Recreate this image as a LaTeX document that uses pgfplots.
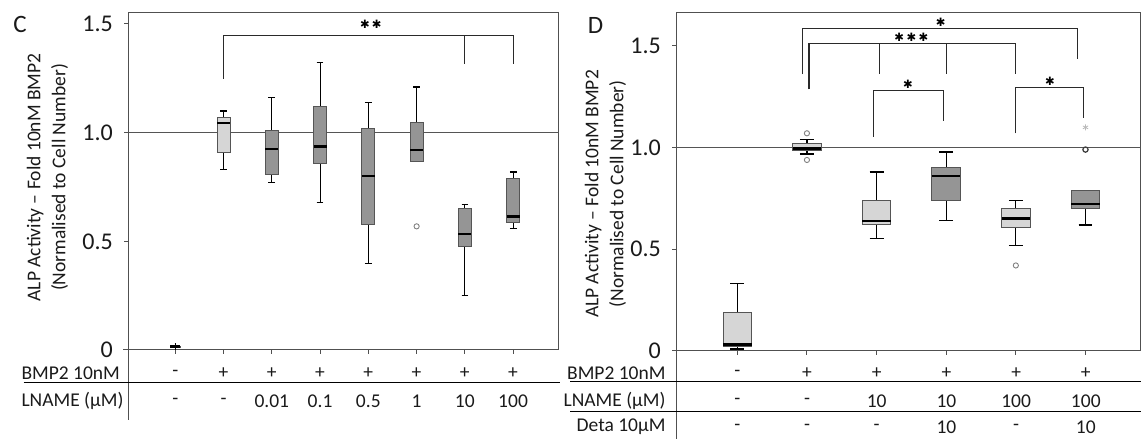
\documentclass[border=0pt]{standalone}
\usepackage{fontspec}
\setmainfont{Carlito}
\newfontfamily\symfont{DejaVu Sans}
\usepackage{pgfplots}
\pgfplotsset{compat=1.18}
\usepgfplotslibrary{statistics}
\definecolor{lightfill}{HTML}{D6D6D6}
\definecolor{darkfill}{HTML}{959595}
\definecolor{boxdraw}{HTML}{555555}
\definecolor{axcol}{HTML}{505050}
\definecolor{refcol}{HTML}{555555}
\definecolor{brkcol}{HTML}{2A2A2A}
\definecolor{txt}{HTML}{1A1A1A}
\newcommand{\lab}{\fontsize{19.5}{25}\selectfont}
\newcommand{\stars}[1]{{\symfont\fontsize{11.5}{11.5}\selectfont #1}}
\pgfplotsset{
  panel/.style={
    scale only axis, ymin=0,
    axis line style={draw=axcol, line width=1pt},
    tick style={draw=axcol, line width=1pt},
    tick align=outside, major tick length=4pt,
    xtick pos=bottom, ytick pos=left,
    xticklabel=\empty,
    ytick={0,0.5,1,1.5}, yticklabels={0,0.5,1.0,1.5},
    yticklabel style={font=\fontsize{24}{24}\selectfont, text=txt, inner sep=0pt, xshift=-11pt},
    boxplot/draw direction=y,
    boxplot/every whisker/.style={draw=black, line width=1.15pt},
    boxplot/every median/.style={draw=black, line width=2.6pt},
    boxplot/every box/.style={draw=boxdraw, line width=0.9pt},
  },
  lbx/.style={draw=boxdraw, fill=lightfill, mark=o, mark size=2.6pt, mark options={draw=gray, fill=white, line width=0.9pt}},
  dbx/.style={draw=boxdraw, fill=darkfill, mark=o, mark size=2.6pt, mark options={draw=gray, fill=white, line width=0.9pt}},
  brk/.style={brkcol, line width=1.1pt, mark=none, forget plot},
}
\begin{document}
\begin{tikzpicture}
\path[use as bounding box] (0pt,0pt) rectangle (1141pt,439pt);

% ---------------- Panel C ----------------
\begin{axis}[panel, at={(128pt,89pt)}, anchor=south west,
  width=431pt, height=337.3pt,
  xmin=-0.98, xmax=7.95, ymax=1.552, xtick={0,...,7},
  boxplot/box extend=0.27, boxplot/whisker extend=0.14]
\addplot[refcol, line width=1.2pt, forget plot] coordinates {(-0.98,1) (7.95,1)};
\addplot[draw=black, fill=black, boxplot prepared={draw direction=y, draw position=0, lower whisker=0.003, lower quartile=0.013, median=0.015, upper quartile=0.017, upper whisker=0.030, box extend=0.2, whisker extend=0.02}] coordinates {};
\addplot[lbx, boxplot prepared={draw direction=y, draw position=1, lower whisker=0.830, lower quartile=0.909, median=1.044, upper quartile=1.071, upper whisker=1.100}] coordinates {};
\addplot[dbx, boxplot prepared={draw direction=y, draw position=2, lower whisker=0.770, lower quartile=0.810, median=0.925, upper quartile=1.011, upper whisker=1.160}] coordinates {};
\addplot[dbx, boxplot prepared={draw direction=y, draw position=3, lower whisker=0.679, lower quartile=0.859, median=0.936, upper quartile=1.120, upper whisker=1.321}] coordinates {};
\addplot[dbx, boxplot prepared={draw direction=y, draw position=4, lower whisker=0.399, lower quartile=0.578, median=0.801, upper quartile=1.020, upper whisker=1.140}] coordinates {};
\addplot[dbx, boxplot prepared={draw direction=y, draw position=5, lower whisker=0.868, lower quartile=0.868, median=0.920, upper quartile=1.048, upper whisker=1.210}] table[row sep=\\, y index=0] {data\\ 0.569\\};
\addplot[dbx, boxplot prepared={draw direction=y, draw position=6, lower whisker=0.250, lower quartile=0.477, median=0.534, upper quartile=0.649, upper whisker=0.669}] coordinates {};
\addplot[dbx, boxplot prepared={draw direction=y, draw position=7, lower whisker=0.560, lower quartile=0.587, median=0.613, upper quartile=0.788, upper whisker=0.819}] coordinates {};
% significance
\addplot[brk] coordinates {(1,1.247) (1,1.448) (7,1.448) (7,1.316)};
\addplot[brk] coordinates {(6,1.448) (6,1.316)};
\node at (axis cs:4.05,1.5) {\stars{✱\hspace{2pt}✱}};
\end{axis}

% ---------------- Panel D ----------------
\begin{axis}[panel, at={(676pt,88pt)}, anchor=south west,
  width=464.5pt, height=338.7pt,
  xmin=-0.88, xmax=5.79, ymax=1.663, xtick={0,...,5},
  boxplot/box extend=0.41, boxplot/whisker extend=0.2]
\addplot[refcol, line width=1.2pt, forget plot] coordinates {(-0.88,1) (5.79,1)};
\addplot[lbx, boxplot prepared={draw direction=y, draw position=0, lower whisker=0.010, lower quartile=0.023, median=0.031, upper quartile=0.190, upper whisker=0.330}] coordinates {};
\addplot[lbx, boxplot prepared={draw direction=y, draw position=1, lower whisker=0.967, lower quartile=0.987, median=0.995, upper quartile=1.018, upper whisker=1.039}] table[row sep=\\, y index=0] {data\\ 1.069\\ 0.938\\};
\addplot[lbx, boxplot prepared={draw direction=y, draw position=2, lower whisker=0.551, lower quartile=0.619, median=0.639, upper quartile=0.740, upper whisker=0.879}] coordinates {};
\addplot[dbx, boxplot prepared={draw direction=y, draw position=3, lower whisker=0.641, lower quartile=0.740, median=0.859, upper quartile=0.900, upper whisker=0.977}] coordinates {};
\addplot[lbx, boxplot prepared={draw direction=y, draw position=4, lower whisker=0.520, lower quartile=0.608, median=0.650, upper quartile=0.699, upper whisker=0.740}] table[row sep=\\, y index=0] {data\\ 0.420\\};
\addplot[dbx, mark options={draw=darkgray, fill=white, line width=1.3pt}, boxplot prepared={draw direction=y, draw position=5, lower whisker=0.619, lower quartile=0.699, median=0.721, upper quartile=0.788, upper whisker=0.788}] table[row sep=\\, y index=0] {data\\ 0.989\\};
\addplot[only marks, mark=asterisk, mark size=3pt, draw=gray!55, line width=0.8pt, forget plot] coordinates {(5,1.098)};
% significance
\addplot[brk] coordinates {(0.93,1.359) (0.93,1.585) (4.89,1.585) (4.89,1.436)};
\node at (axis cs:2.92,1.616) {\stars{✱}};
\addplot[brk] coordinates {(1.03,1.284) (1.03,1.511) (3.99,1.511) (3.99,1.359)};
\addplot[brk] coordinates {(2.04,1.511) (2.04,1.359)};
\addplot[brk] coordinates {(3.0,1.511) (3.0,1.359)};
\node at (axis cs:2.50,1.542) {\stars{✱\hspace{2.5pt}✱\hspace{2.5pt}✱}};
\addplot[brk] coordinates {(1.96,1.052) (1.96,1.281) (2.96,1.281) (2.96,1.129)};
\node at (axis cs:2.45,1.309) {\stars{✱}};
\addplot[brk] coordinates {(3.99,1.069) (3.99,1.294) (4.97,1.294) (4.97,1.144)};
\node at (axis cs:4.49,1.325) {\stars{✱}};
\end{axis}

% ---------- decorations: panel letters, y labels, tables ----------
\begin{scope}[x=1pt,y=1pt]
\node[font=\fontsize{25}{25}\selectfont, text=txt] at (20,414.5) {C};
\node[font=\fontsize{25}{25}\selectfont, text=txt] at (595.5,413.5) {D};
\node[rotate=90, align=center, font=\lab, text=txt] at (47.5,261.5) {ALP Activity – Fold 10nM BMP2\\(Normalised to Cell Number)};
\node[rotate=90, align=center, font=\lab, text=txt] at (605.5,245) {ALP Activity – Fold 10nM BMP2\\(Normalised to Cell Number)};

% table C
\draw[axcol, line width=1pt] (123,89) -- (128,89);
\draw[axcol, line width=1pt] (128,89) -- (128,19);
\draw[black, line width=1pt] (23.6,56) -- (560,56);
\begin{scope}[every node/.style={font=\lab, text=txt}]
\node[anchor=west] at (18,66) {BMP2 10nM};
\node[anchor=west] at (18,38) {LNAME (µM)};
\node at (175.3,66) {-};  \node at (223.55,66) {+}; \node at (271.8,66) {+}; \node at (320.05,66) {+};
\node at (368.3,66) {+};  \node at (416.55,66) {+}; \node at (464.8,66) {+}; \node at (513.05,66) {+};
\node at (175.3,38) {-};  \node at (223.55,38) {-}; \node at (271.8,38) {0.01}; \node at (320.05,38) {0.1};
\node at (368.3,38) {0.5}; \node at (416.55,38) {1}; \node at (464.8,38) {10}; \node at (513.05,38) {100};
% table D
\node[anchor=east] at (669,66) {BMP2 10nM};
\node[anchor=east] at (669,38) {LNAME (µM)};
\node[anchor=east] at (669,12) {Deta 10µM};
\node at (737.3,66) {-}; \node at (807.0,66) {+}; \node at (876.7,66) {+};
\node at (946.4,66) {+}; \node at (1016.1,66) {+}; \node at (1085.8,66) {+};
\node at (737.3,38) {-}; \node at (807.0,38) {-}; \node at (876.7,38) {10};
\node at (946.4,38) {10}; \node at (1016.1,38) {100}; \node at (1085.8,38) {100};
\node at (737.3,12) {-}; \node at (807.0,12) {-}; \node at (876.7,12) {-};
\node at (946.4,12) {10}; \node at (1016.1,12) {-}; \node at (1085.8,12) {10};
\end{scope}
\draw[axcol, line width=1pt] (676,88) -- (676,0);
\draw[black, line width=1pt] (570,57) -- (1141,57);
\draw[black, line width=1pt] (570,27) -- (1141,27);
\end{scope}
\end{tikzpicture}
\end{document}
